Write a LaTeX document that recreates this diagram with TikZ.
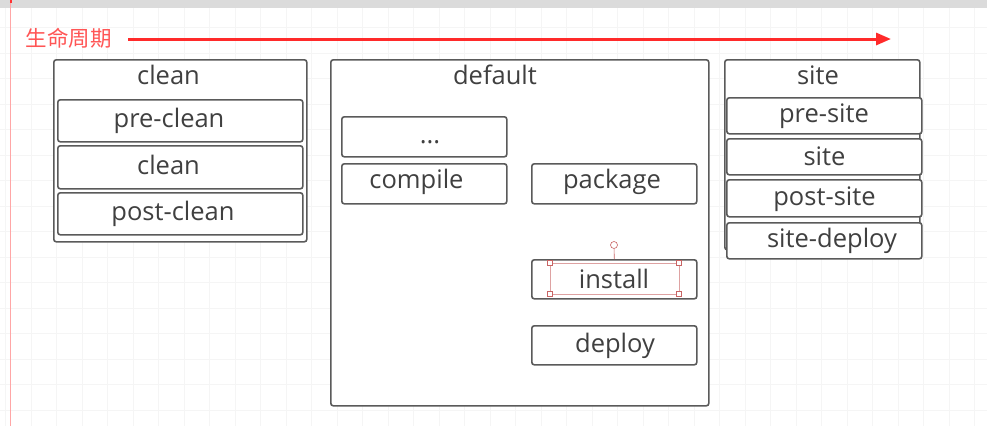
\documentclass[tikz,border=0pt]{standalone}
\usepackage{fontspec}
\setmainfont{Open Sans}
\newfontfamily\cjk{Noto Sans CJK SC}
\usetikzlibrary{arrows.meta}
\definecolor{edge}{HTML}{5A5A5A}
\definecolor{txt}{HTML}{404040}
\definecolor{lred}{HTML}{FF2A2A}
\definecolor{hred}{HTML}{C86464}
\begin{document}
\begin{tikzpicture}[x=1pt,y=-1pt,
  box/.style={draw=edge, line width=1.6pt, rounded corners=2.5pt, fill=white,
    anchor=north west, inner sep=0pt},
  lbl/.style={text=txt, inner sep=0pt, anchor=base, font=\fontsize{25.5}{25.5}\selectfont},
  handle/.style={draw=hred, line width=0.6pt, fill=white, minimum size=5pt, inner sep=0pt}]
\useasboundingbox (0,0) rectangle (987,426);
\fill[white] (0,0) rectangle (987,426);
% faint grid
\foreach \i in {0,...,38} {\draw[black!4, line width=0.5pt] ({5.5+25.5*\i},8) -- ({5.5+25.5*\i},426);}
\foreach \j in {0,...,16} {\draw[black!4, line width=0.5pt] (0,{410-25.5*\j}) -- (987,{410-25.5*\j});}
\fill[black!14] (0,0) rectangle (987,8);
\draw[red!35, line width=0.9pt] (10.5,0) -- (10.5,426);
\fill[red!80] (9.5,0) rectangle (12,3);

% lifecycle label and arrow
\node[text=lred!80, inner sep=0pt, font=\cjk\fontsize{21.5}{21.5}\selectfont] (lc) at (68.5,38) {生命周期};
\coordinate (a0) at (128,39);
\coordinate (a1) at (891,39);
\draw[lred, line width=3pt, -{Triangle[length=15pt,width=12pt]}] (a0) -- (a1);

% clean
\node[box, minimum width=253pt, minimum height=182pt] (clean) at (53,59) {};
\node[lbl] (cleant) at (168.5,84) {clean};
\node[box, minimum width=245pt, minimum height=42pt] (preclean) at (57,99) {};
\node[lbl] (precleant) at (169,127) {pre-clean};
\node[box, minimum width=245pt, minimum height=43pt] (cleanc) at (57,145) {};
\node[lbl] (cleanct) at (168.5,174) {clean};
\node[box, minimum width=245pt, minimum height=42pt] (postclean) at (57,192) {};
\node[lbl] (postcleant) at (173,220) {post-clean};

% default
\node[box, minimum width=378pt, minimum height=346pt] (default) at (330,59) {};
\node[lbl] (defaultt) at (495,84) {default};
\node[box, minimum width=165pt, minimum height=40pt] (dots) at (341,116) {};
\node[lbl] (dotst) at (430,143) {...};
\node[box, minimum width=165pt, minimum height=40pt] (compile) at (341,163) {};
\node[lbl] (compilet) at (416.5,188) {compile};
\node[box, minimum width=165pt, minimum height=40pt] (package) at (531,163) {};
\node[lbl] (packaget) at (612,188) {package};
\node[box, minimum width=165pt, minimum height=39pt] (install) at (531,259) {};
\node[lbl] (installt) at (614,288) {install};
\node[box, minimum width=165pt, minimum height=39pt] (deploy) at (531,325) {};
\node[lbl] (deployt) at (615,352) {deploy};

% selection handles on install
\draw[hred!60, line width=0.4pt] (550,263) rectangle (679,294);
\node[handle] (h1) at (550,263) {};
\node[handle] (h2) at (679,263) {};
\node[handle] (h3) at (550,294) {};
\node[handle] (h4) at (679,294) {};
\node[draw=hred, line width=0.6pt, fill=white, circle, minimum size=7pt, inner sep=0pt] (rot) at (614,245) {};
\draw[hred, line width=0.6pt] (rot) -- (install.north);

% site
\node[box, minimum width=195pt, minimum height=190pt] (site) at (724,59) {};
\node[lbl] (sitet) at (818,84) {site};
\node[box, minimum width=195pt, minimum height=36pt] (presite) at (726,97) {};
\node[lbl] (presitet) at (824,122) {pre-site};
\node[box, minimum width=195pt, minimum height=36pt] (sitec) at (726,138) {};
\node[lbl] (sitect) at (824.5,165) {site};
\node[box, minimum width=195pt, minimum height=37pt] (postsite) at (726,179) {};
\node[lbl] (postsitet) at (824.5,205) {post-site};
\node[box, minimum width=195pt, minimum height=36pt] (sitedeploy) at (726,222) {};
\node[lbl] (sitedeployt) at (832,247) {site-deploy};
\end{tikzpicture}
\end{document}
